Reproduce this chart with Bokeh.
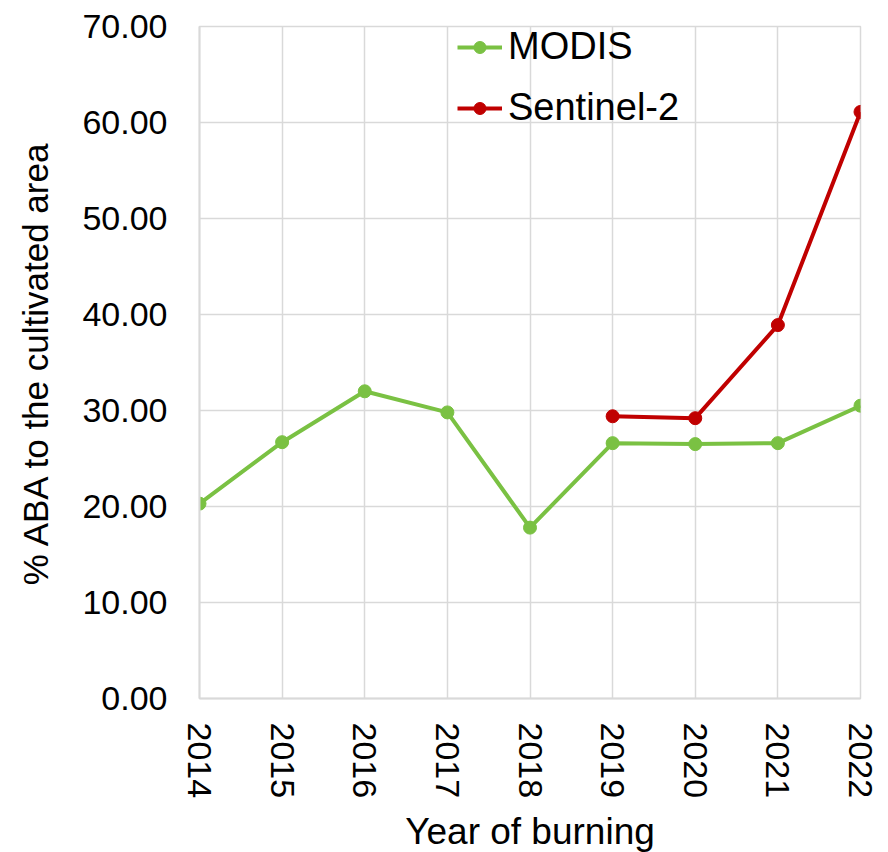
import math
from bokeh.plotting import figure
from bokeh.models import FixedTicker, PrintfTickFormatter, Legend, LegendItem, Range1d
from bokeh.embed import file_html
from bokeh.resources import INLINE

years = [2014, 2015, 2016, 2017, 2018, 2019, 2020, 2021, 2022]
modis = [20.3, 26.7, 32.0, 29.8, 17.8, 26.6, 26.5, 26.6, 30.5]
s2_years = [2019, 2020, 2021, 2022]
sentinel2 = [29.4, 29.2, 38.9, 61.1]
y_ticks = [0, 10, 20, 30, 40, 50, 60, 70]

GREEN = "#7AC143"
RED = "#C00000"
GRID = "#D9D9D9"
FONT = "Liberation Sans"

p = figure(frame_width=661, frame_height=672, output_backend="svg", toolbar_location=None,
           x_range=Range1d(2014, 2022), y_range=Range1d(0, 70),
           min_border_left=199, min_border_top=26, min_border_right=20, min_border_bottom=10)

l1 = p.line(years, modis, line_color=GREEN, line_width=4)
c1 = p.scatter(years, modis, size=13, fill_color=GREEN, line_color=GREEN)
l2 = p.line(s2_years, sentinel2, line_color=RED, line_width=4)
c2 = p.scatter(s2_years, sentinel2, size=13, fill_color=RED, line_color=RED)

p.xaxis.ticker = FixedTicker(ticks=years)
p.yaxis.ticker = FixedTicker(ticks=y_ticks)
p.yaxis.formatter = PrintfTickFormatter(format="%.2f")
p.xaxis.major_label_orientation = -math.pi / 2

for ax in (p.xaxis[0], p.yaxis[0]):
    ax.axis_line_color = GRID
    ax.axis_line_width = 2
    ax.major_tick_line_color = None
    ax.minor_tick_line_color = None
    ax.major_tick_out = 0
    ax.major_tick_in = 0
    ax.major_label_text_font = FONT
    ax.major_label_text_font_size = "34px"
    ax.major_label_text_color = "black"
    ax.axis_label_text_font = FONT
    ax.axis_label_text_font_style = "normal"
    ax.axis_label_text_color = "black"

p.xaxis.major_label_standoff = 24
p.yaxis.major_label_standoff = 32
p.xaxis.axis_label = "Year of burning"
p.yaxis.axis_label = "% ABA to the cultivated area"
p.xaxis.axis_label_text_font_size = "37px"
p.yaxis.axis_label_text_font_size = "35px"
p.xaxis.axis_label_standoff = 10
p.yaxis.axis_label_standoff = 24

p.xgrid.ticker = FixedTicker(ticks=years)
p.ygrid.ticker = FixedTicker(ticks=y_ticks)
p.grid.grid_line_color = GRID
p.grid.grid_line_width = 1.5
p.outline_line_color = GRID
p.outline_line_width = 1.5
p.background_fill_color = "white"
p.border_fill_color = "white"

legend = Legend(items=[LegendItem(label="MODIS", renderers=[l1, c1]),
                       LegendItem(label="Sentinel-2", renderers=[l2, c2])],
                location=(258, 569), orientation="vertical")
legend.label_text_font = FONT
legend.label_text_font_size = "38px"
legend.label_text_color = "black"
legend.glyph_width = 45
legend.glyph_height = 30
legend.label_standoff = 6
legend.spacing = 18
legend.padding = 0
legend.margin = 0
legend.border_line_alpha = 0
legend.background_fill_alpha = 0
p.add_layout(legend)

open("out.html", "w").write(file_html(p, INLINE))
